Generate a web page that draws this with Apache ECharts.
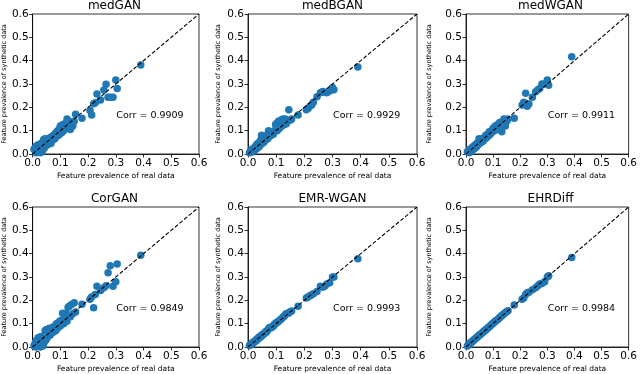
<!DOCTYPE html>
<html>
<head>
<meta charset="utf-8">
<script src="https://cdn.jsdelivr.net/npm/echarts@6/dist/echarts.min.js"></script>
<style>
html, body { margin: 0; padding: 0; background: #fff; }
#main { width: 640px; height: 374px; }
</style>
</head>
<body>
<div id="main"></div>
<script>
// model names and their correlation labels
var models = ['medGAN', 'medBGAN', 'medWGAN', 'CorGAN', 'EMR-WGAN', 'EHRDiff'];
var corrs = ['0.9909', '0.9929', '0.9911', '0.9849', '0.9993', '0.9984'];
var tickLabels = ['0.0', '0.1', '0.2', '0.3', '0.4', '0.5', '0.6'];

// feature prevalence of real data (shared x for all panels)
var realPrev = [0.005, 0.01, 0.012, 0.015, 0.018, 0.02, 0.022, 0.025, 0.028, 0.03,
  0.032, 0.035, 0.038, 0.04, 0.042, 0.045, 0.048, 0.05, 0.053, 0.056,
  0.06, 0.063, 0.066, 0.07, 0.073, 0.076, 0.08, 0.083, 0.086, 0.09,
  0.094, 0.098, 0.1, 0.104, 0.108, 0.112, 0.116, 0.12, 0.124, 0.128,
  0.132, 0.136, 0.14, 0.145, 0.15, 0.155,
  0.178, 0.207, 0.213, 0.22, 0.226, 0.232, 0.245, 0.257, 0.265, 0.272, 0.28, 0.29, 0.3, 0.305, 0.39];

// feature prevalence of synthetic data, one array per model
var medGAN = [0.02, 0.03, 0.005, 0.035, 0.01, 0.04, 0.015, 0.03, 0.005, 0.045,
  0.02, 0.01, 0.05, 0.062, 0.025, 0.065, 0.035, 0.06, 0.04, 0.065,
  0.05, 0.07, 0.045, 0.075, 0.06, 0.08, 0.065, 0.09, 0.075, 0.1,
  0.08, 0.11, 0.12, 0.09, 0.125, 0.1, 0.13, 0.11, 0.15, 0.12,
  0.14, 0.105, 0.13, 0.12, 0.14, 0.17,
  0.153, 0.186, 0.167, 0.215, 0.22, 0.257, 0.231, 0.274, 0.299, 0.243, 0.243, 0.243, 0.317, 0.281, 0.381];
var medBGAN = [0.005, 0.015, 0.008, 0.02, 0.012, 0.025, 0.015, 0.03, 0.02, 0.04,
  0.025, 0.045, 0.03, 0.05, 0.035, 0.06, 0.08, 0.045, 0.065, 0.05,
  0.07, 0.06, 0.08, 0.065, 0.1, 0.075, 0.09, 0.08, 0.095, 0.085,
  0.1, 0.125, 0.13, 0.1, 0.14, 0.11, 0.145, 0.12, 0.15, 0.125,
  0.15, 0.13, 0.145, 0.19, 0.145, 0.15,
  0.167, 0.19, 0.195, 0.205, 0.21, 0.222, 0.245, 0.262, 0.268, 0.265, 0.262, 0.27, 0.285, 0.275, 0.373];
var medWGAN = [0.01, 0.015, 0.005, 0.02, 0.01, 0.025, 0.015, 0.03, 0.02, 0.035,
  0.025, 0.04, 0.03, 0.045, 0.035, 0.05, 0.065, 0.045, 0.055, 0.05,
  0.065, 0.055, 0.07, 0.065, 0.08, 0.07, 0.085, 0.078, 0.095, 0.085,
  0.1, 0.095, 0.11, 0.1, 0.12, 0.105, 0.125, 0.11, 0.135, 0.12,
  0.095, 0.14, 0.15, 0.12, 0.14, 0.15,
  0.153, 0.21, 0.222, 0.26, 0.205, 0.214, 0.243, 0.267, 0.275, 0.281, 0.3, 0.3, 0.317, 0.295, 0.417];
var CorGAN = [0.005, 0.02, 0.0, 0.03, 0.005, 0.04, 0.01, 0.03, 0.0, 0.045,
  0.015, 0.04, 0.005, 0.035, 0.02, 0.07, 0.03, 0.075, 0.04, 0.065,
  0.08, 0.05, 0.07, 0.06, 0.085, 0.065, 0.09, 0.07, 0.1, 0.08,
  0.105, 0.11, 0.09, 0.115, 0.145, 0.1, 0.12, 0.145, 0.11, 0.17,
  0.175, 0.13, 0.182, 0.143, 0.19, 0.15,
  0.183, 0.205, 0.214, 0.168, 0.225, 0.26, 0.242, 0.254, 0.262, 0.318, 0.348, 0.26, 0.28, 0.356, 0.393];
var EMRWGAN = [0.006, 0.011, 0.01, 0.017, 0.016, 0.022, 0.021, 0.027, 0.026, 0.032,
  0.031, 0.037, 0.036, 0.043, 0.041, 0.047, 0.046, 0.053, 0.052, 0.058,
  0.059, 0.066, 0.064, 0.073, 0.078, 0.083, 0.085, 0.082, 0.088, 0.089,
  0.097, 0.1, 0.104, 0.106, 0.11, 0.114, 0.118, 0.122, 0.128, 0.131,
  0.138, 0.142, 0.145, 0.146, 0.151, 0.154,
  0.175, 0.21, 0.214, 0.22, 0.224, 0.228, 0.238, 0.26, 0.256, 0.26, 0.27, 0.275, 0.3, 0.3, 0.378];
var EHRDiff = [0.004, 0.01, 0.013, 0.016, 0.018, 0.021, 0.023, 0.026, 0.029, 0.031,
  0.033, 0.036, 0.039, 0.042, 0.043, 0.046, 0.049, 0.052, 0.054, 0.057,
  0.061, 0.064, 0.067, 0.071, 0.074, 0.077, 0.081, 0.084, 0.087, 0.091,
  0.095, 0.1, 0.102, 0.106, 0.11, 0.114, 0.117, 0.121, 0.126, 0.13,
  0.135, 0.138, 0.142, 0.147, 0.152, 0.155,
  0.18, 0.205, 0.21, 0.225, 0.232, 0.235, 0.245, 0.254, 0.262, 0.27, 0.272, 0.28, 0.3, 0.305, 0.384];
var synthPrev = [medGAN, medBGAN, medWGAN, CorGAN, EMRWGAN, EHRDiff];

var font = 'DejaVu Sans';
var colLeft = [30, 248, 466];
var rowTop = [14, 207];
var plotW = 169, plotH = 140;
var yNameGap = [24, 26, 33];

var grids = [], xAxes = [], yAxes = [], titles = [], series = [];

models.forEach(function (name, i) {
  var c = i % 3, r = Math.floor(i / 3);
  grids.push({
    left: colLeft[c], top: rowTop[r], width: plotW, height: plotH,
    show: true, borderColor: '#000', borderWidth: 0.8, backgroundColor: 'transparent'
  });
  titles.push({
    text: name, padding: 0,
    left: colLeft[c] + plotW / 2, top: rowTop[r] - 14, textAlign: 'center',
    textStyle: { fontFamily: font, fontSize: 12, fontWeight: 'normal', color: '#000' }
  });
  var axisCommon = {
    type: 'value', gridIndex: i, min: 0, max: 0.6, interval: 0.1,
    axisLine: { show: true, lineStyle: { color: '#000', width: 0.8 } },
    axisTick: { show: true, inside: false, length: 3.5, lineStyle: { color: '#000', width: 0.8 } },
    splitLine: { show: false },
    nameLocation: 'middle'
  };
  xAxes.push(Object.assign({}, axisCommon, {
    name: 'Feature prevalence of real data', nameGap: 18,
    nameTextStyle: { fontFamily: font, fontSize: 7.5, color: '#000' },
    axisLabel: { fontFamily: font, fontSize: 10.5, color: '#000', margin: 4,
      formatter: function (v) { return tickLabels[Math.round(v * 10)]; } }
  }));
  yAxes.push(Object.assign({}, axisCommon, {
    name: 'Feature prevalence of synthetic data', nameGap: yNameGap[c],
    nameTextStyle: { fontFamily: font, fontSize: 6.5, color: '#000' },
    axisLabel: { fontFamily: font, fontSize: 10.5, color: '#000', margin: 4,
      formatter: function (v) { return tickLabels[Math.round(v * 10)]; } }
  }));
  var ys = synthPrev[i];
  series.push({
    type: 'scatter', xAxisIndex: i, yAxisIndex: i,
    symbolSize: 7.5, itemStyle: { color: '#1f77b4', opacity: 1 },
    data: realPrev.map(function (x, k) { return [x, ys[k]]; }),
    markPoint: {
      symbol: 'circle', symbolSize: 1, itemStyle: { color: 'rgba(0,0,0,0)' },
      label: { show: true, position: 'right', distance: 0, formatter: 'Corr = ' + corrs[i],
        fontFamily: font, fontSize: 9.5, color: '#000' },
      data: [{ coord: [0.3, 0.165] }]
    },
    z: 2
  });
  series.push({
    type: 'line', xAxisIndex: i, yAxisIndex: i,
    data: [[0, 0], [0.6, 0.6]], symbol: 'none',
    lineStyle: { color: '#000', width: 1.1, type: [4, 2] },
    z: 3, silent: true
  });
});

var chart = echarts.init(document.getElementById('main'), null, { renderer: 'canvas' });
chart.setOption({
  animation: false,
  backgroundColor: '#fff',
  title: titles,
  grid: grids,
  xAxis: xAxes,
  yAxis: yAxes,
  series: series
});
</script>
</body>
</html>
